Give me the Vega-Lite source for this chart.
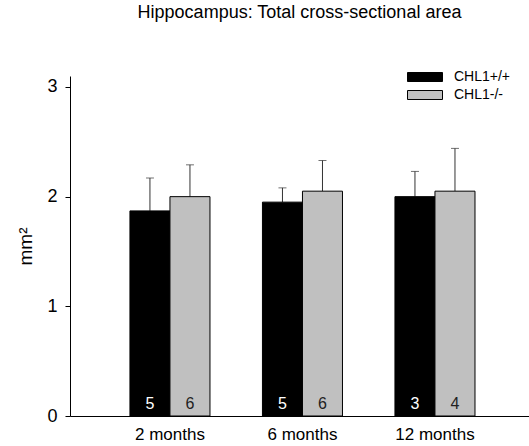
{
  "$schema": "https://vega.github.io/schema/vega-lite/v6.json",
  "autosize": "none",
  "padding": {"left": 70, "top": 76, "right": 0, "bottom": 30},
  "width": 459,
  "height": 340,
  "title": {
    "text": "Hippocampus: Total cross-sectional area",
    "font": "Liberation Sans",
    "fontSize": 18,
    "fontWeight": "normal",
    "color": "black",
    "anchor": "middle",
    "offset": 48
  },
  "config": {
    "view": {"stroke": null},
    "font": "Liberation Sans",
    "axis": {
      "grid": false,
      "domainColor": "black",
      "tickColor": "black",
      "labelColor": "black",
      "titleColor": "black",
      "labelFont": "Liberation Sans",
      "titleFont": "Liberation Sans",
      "labelFontSize": 17,
      "titleFontSize": 19,
      "titleFontWeight": "normal"
    }
  },
  "data": {
    "values": [
      {"age": "2 months", "genotype": "CHL1+/+", "mean": 1.87, "err": 2.17, "n": 5},
      {"age": "2 months", "genotype": "CHL1-/-", "mean": 2.0, "err": 2.29, "n": 6},
      {"age": "6 months", "genotype": "CHL1+/+", "mean": 1.95, "err": 2.08, "n": 5},
      {"age": "6 months", "genotype": "CHL1-/-", "mean": 2.05, "err": 2.33, "n": 6},
      {"age": "12 months", "genotype": "CHL1+/+", "mean": 2.0, "err": 2.23, "n": 3},
      {"age": "12 months", "genotype": "CHL1-/-", "mean": 2.05, "err": 2.44, "n": 4}
    ]
  },
  "encoding": {
    "x": {
      "field": "age",
      "type": "nominal",
      "sort": ["2 months", "6 months", "12 months"],
      "scale": {"paddingOuter": 0.43, "paddingInner": 0.396, "align": 0.526},
      "axis": {"title": null, "labelAngle": 0, "ticks": false, "labelPadding": 10}
    },
    "xOffset": {
      "field": "genotype",
      "type": "nominal",
      "sort": ["CHL1+/+", "CHL1-/-"],
      "scale": {"paddingInner": 0, "paddingOuter": 0}
    }
  },
  "layer": [
    {
      "mark": {"type": "rule", "color": "#333", "strokeWidth": 1},
      "encoding": {
        "y": {"field": "mean", "type": "quantitative"},
        "y2": {"field": "err"}
      }
    },
    {
      "mark": {"type": "tick", "color": "#333", "thickness": 1, "size": 8},
      "encoding": {
        "y": {"field": "err", "type": "quantitative"}
      }
    },
    {
      "mark": {"type": "bar", "stroke": "black", "strokeWidth": 1},
      "encoding": {
        "y": {
          "field": "mean",
          "type": "quantitative",
          "scale": {"domain": [0, 3.1], "nice": false},
          "axis": {
            "title": "mm²",
            "values": [0, 1, 2, 3],
            "format": "d",
            "labelFontSize": 18,
            "tickSize": 5,
            "labelPadding": 8,
            "titlePadding": 11
          }
        },
        "fill": {
          "field": "genotype",
          "type": "nominal",
          "sort": ["CHL1+/+", "CHL1-/-"],
          "scale": {"range": ["black", "#c0c0c0"]},
          "legend": {
            "title": null,
            "orient": "none",
            "legendX": 335,
            "legendY": -6,
            "padding": 0,
            "symbolType": "M-1,-1H6.78V1H-1Z",
            "symbolSize": 81,
            "symbolStrokeColor": "black",
            "symbolStrokeWidth": 1,
            "symbolOpacity": 1,
            "labelOffset": 35,
            "labelFont": "Liberation Sans",
            "labelFontSize": 14,
            "labelColor": "black",
            "rowPadding": 4
          }
        }
      }
    },
    {
      "mark": {"type": "text", "fontSize": 16, "baseline": "alphabetic", "dy": -7},
      "encoding": {
        "y": {"datum": 0, "type": "quantitative"},
        "text": {"field": "n", "type": "quantitative"},
        "color": {
          "condition": {"test": "datum.genotype === 'CHL1+/+'", "value": "white"},
          "value": "#222"
        }
      }
    }
  ]
}
